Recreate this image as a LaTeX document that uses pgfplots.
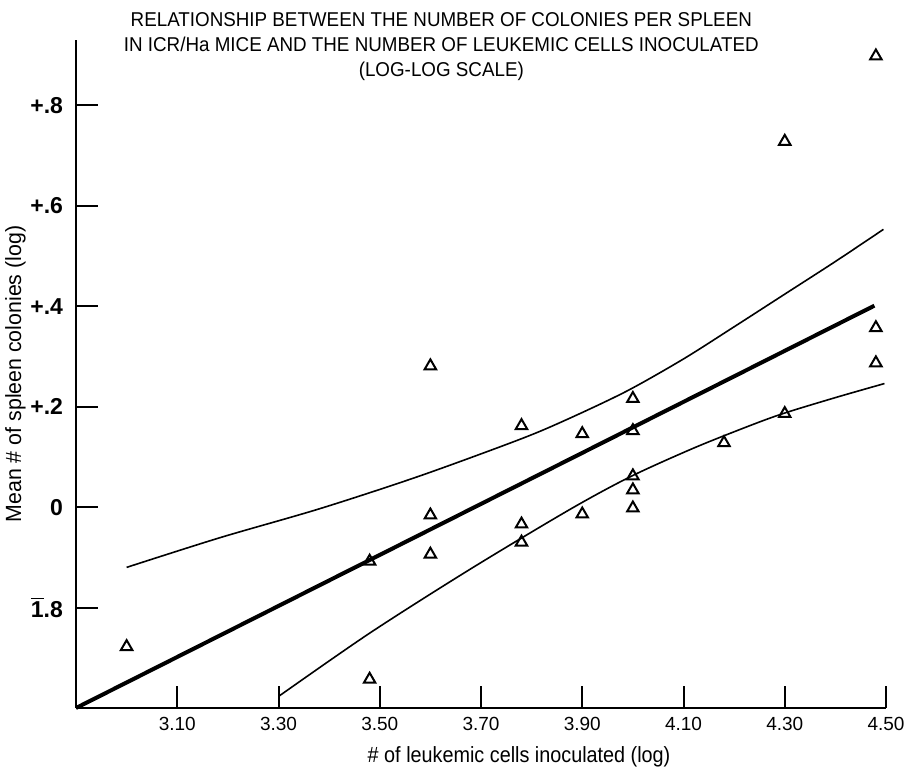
\documentclass[border=0pt]{standalone}
\usepackage{fontspec}
\setmainfont{Liberation Sans}
\newfontfamily\condfont{Liberation Sans}[FakeStretch=0.9]
\newfontfamily\ylabfont{Liberation Sans}[FakeStretch=0.97]
\newfontfamily\titlefont{Liberation Sans}[FakeStretch=0.94]
\usepackage{pgfplots}
\pgfplotsset{compat=1.18}
\begin{document}
\begin{tikzpicture}
\begin{axis}[
  scale only axis,
  width=405pt, height=334pt,
  xmin=2.90, xmax=4.50, ymin=-0.40, ymax=0.93,
  axis lines=left,
  axis line style={-, line width=1.3pt},
  tick align=inside,
  major tick length=11pt,
  tick style={line width=1pt, black},
  xtick={3.1,3.3,3.5,3.7,3.9,4.1,4.3,4.5},
  xticklabels={3.10,3.30,3.50,3.70,3.90,4.10,4.30,4.50},
  ytick={-0.2,0,0.2,0.4,0.6,0.8},
  yticklabels={$\overline{\mbox{1}}$.8,0,+.2,+.4,+.6,+.8},
  xticklabel style={font=\fontsize{9.5}{11}\selectfont, yshift=-1pt},
  yticklabel style={font=\bfseries\fontsize{11.5}{13}\selectfont, xshift=-3pt},
  xlabel={\# of leukemic cells inoculated (log)},
  ylabel={Mean \# of spleen colonies (log)},
  xlabel style={font=\condfont\fontsize{11}{13}\selectfont, at={(ticklabel cs:0.547)}, anchor=north, yshift=-1pt},
  ylabel style={font=\ylabfont\fontsize{11}{13}\selectfont, at={(ticklabel cs:0.5)}, anchor=south, yshift=-4.5pt},
  title style={at={(rel axis cs:0.451,1)}, anchor=north, yshift=11.5pt, align=center, font=\titlefont\fontsize{10}{12.5}\selectfont},
  title={RELATIONSHIP BETWEEN THE NUMBER OF COLONIES PER SPLEEN\\IN ICR/Ha MICE AND THE NUMBER OF LEUKEMIC CELLS INOCULATED\\(LOG-LOG SCALE)},
  clip=false,
]
% regression line
\addplot[black, line width=2pt] coordinates {(2.90,-0.40) (4.477,0.401)};
% upper confidence curve
\addplot[black, line width=0.8pt, smooth] coordinates {
(3.00,-0.120) (3.184,-0.061) (3.382,-0.003) (3.579,0.062) (3.777,0.135) (3.871,0.175)
(3.988,0.231) (4.10,0.295) (4.20,0.359) (4.30,0.424) (4.40,0.489) (4.495,0.553)};
% lower confidence curve
\addplot[black, line width=0.8pt, smooth] coordinates {
(3.300,-0.377) (3.480,-0.251) (3.678,-0.124) (3.875,-0.005) (3.994,0.060)
(4.112,0.114) (4.20,0.150) (4.29,0.184) (4.40,0.218) (4.497,0.246)};
% data points
\addplot[only marks, mark=triangle, mark size=3.3pt, mark options={line width=1pt, black}] table {
x y
3.00 -0.278
3.48 -0.108
3.48 -0.343
3.60 0.281
3.60 -0.016
3.60 -0.094
3.78 0.162
3.78 -0.034
3.78 -0.070
3.90 0.146
3.90 -0.014
4.00 0.216
4.00 0.152
4.00 0.062
4.00 0.034
4.00 -0.002
4.18 0.128
4.30 0.186
4.30 0.728
4.48 0.898
4.48 0.357
4.48 0.287
};
\end{axis}
\pgfresetboundingbox
\path[use as bounding box] ([xshift=-38pt,yshift=-30pt]current axis.south west) rectangle ([xshift=9.5pt,yshift=20pt]current axis.north east);
\end{tikzpicture}
\end{document}
